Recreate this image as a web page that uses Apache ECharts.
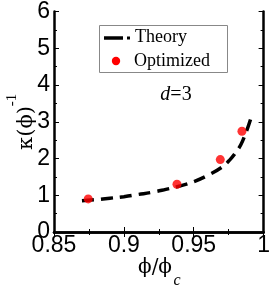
<!DOCTYPE html>
<html><head><meta charset="utf-8">
<script src="https://cdn.jsdelivr.net/npm/echarts@6/dist/echarts.min.js"></script>
<style>html,body{margin:0;padding:0;background:#fff}#c{width:273px;height:287px}</style>
</head><body><div id="c"></div>
<script>
const theoryX = [0.87, 0.88, 0.89, 0.90, 0.91, 0.92, 0.93, 0.94, 0.95, 0.96, 0.97, 0.975, 0.98, 0.985, 0.9915];
const theoryY = [0.85, 0.88, 0.92, 0.96, 1.02, 1.08, 1.16, 1.25, 1.37, 1.54, 1.76, 1.93, 2.16, 2.48, 3.17];
const optX = [0.8745, 0.938, 0.969, 0.9845];
const optY = [0.90, 1.30, 1.97, 2.74];
const xTicks = [0.85, 0.9, 0.95, 1];
const yTicks = [0, 1, 2, 3, 4, 5, 6];

const chart = echarts.init(document.getElementById('c'));
const serif = 'Liberation Serif';
const sans = 'Liberation Sans';
const frame = {show: true, lineStyle: {color: '#000', width: 2.5}};
function xAx(pos, labels) {
  return {type: 'value', position: pos, min: 0.85, max: 1, interval: 0.05,
    axisLine: frame,
    axisTick: {show: true, inside: true, length: 5, lineStyle: {color: '#000', width: 1}},
    minorTick: {show: true, splitNumber: 2, length: 3, lineStyle: {color: '#000', width: 1}},
    splitLine: {show: false},
    axisLabel: {show: labels, margin: 2, color: '#000', fontFamily: sans, fontSize: 23,
      formatter: v => { const t = xTicks.find(k => Math.abs(k - v) < 1e-6); return t === undefined ? '' : String(t); }}
  };
}
function yAx(pos, labels) {
  return {type: 'value', position: pos, min: 0, max: 6, interval: 1,
    axisLine: frame,
    axisTick: {show: true, inside: true, length: 5, lineStyle: {color: '#000', width: 1}},
    minorTick: {show: true, splitNumber: 2, length: 3, lineStyle: {color: '#000', width: 1}},
    splitLine: {show: false},
    axisLabel: {show: labels, margin: 4, color: '#000', fontFamily: sans, fontSize: 23,
      formatter: v => String(yTicks.find(k => Math.abs(k - v) < 1e-6))}
  };
}
chart.setOption({
  animation: false,
  grid: {left: 54, right: 6, top: 10, bottom: 55},
  xAxis: [xAx('bottom', true), xAx('top', false)],
  yAxis: [yAx('left', true), yAx('right', false)],
  series: [
    {name: 'Theory', type: 'line', showSymbol: false, symbol: 'none', smooth: true,
      data: theoryX.map((x, i) => [x, theoryY[i]]),
      lineStyle: {color: '#000', width: 3.5, type: [12, 7]}, z: 2},
    {name: 'Optimized', type: 'scatter', symbol: 'circle', symbolSize: 9,
      data: optX.map((x, i) => [x, optY[i]]),
      itemStyle: {color: '#ff0000'}, z: 3}
  ],
  graphic: [
    {type: 'rect', shape: {x: 99.5, y: 25.5, width: 128, height: 47},
      style: {fill: '#fff', stroke: '#888', lineWidth: 1}, z: 10},
    {type: 'line', shape: {x1: 104, y1: 38, x2: 123, y2: 38},
      style: {stroke: '#000', lineWidth: 3.5}, z: 11},
    {type: 'rect', shape: {x: 127, y: 36.5, width: 3, height: 3}, style: {fill: '#000'}, z: 11},
    {type: 'circle', shape: {cx: 116, cy: 61, r: 4.2}, style: {fill: '#ff0000'}, z: 11},
    {type: 'text', x: 135, y: 37, style: {text: 'Theory', font: '18px "Liberation Serif"', fill: '#000', verticalAlign: 'middle'}, z: 11},
    {type: 'text', x: 134, y: 61, style: {text: 'Optimized', font: '18px "Liberation Serif"', fill: '#000', verticalAlign: 'middle'}, z: 11},
    {type: 'text', x: 176, y: 95, style: {text: '{i|d}=3', align: 'center', verticalAlign: 'middle',
      font: '20px "Liberation Serif"', fill: '#000',
      rich: {i: {fontStyle: 'italic', fontFamily: serif, fontSize: 20}}}, z: 11},
    {type: 'text', x: 27, y: 128, rotation: Math.PI / 2,
      style: {text: 'κ(ϕ)', font: '21px "DejaVu Serif"', fill: '#000', align: 'center', verticalAlign: 'middle'}},
    {type: 'text', x: 12, y: 100, rotation: Math.PI / 2,
      style: {text: '-1', font: '15px "Liberation Serif"', fill: '#000', align: 'center', verticalAlign: 'middle'}},
    {type: 'text', x: 155, y: 268,
      style: {text: 'ϕ/ϕ', font: '20px "DejaVu Serif"', fill: '#000', align: 'center', verticalAlign: 'middle'}},
    {type: 'text', x: 177, y: 281,
      style: {text: 'c', font: 'italic 16px "Liberation Serif"', fill: '#000', align: 'center', verticalAlign: 'middle'}}
  ]
});
</script></body></html>
